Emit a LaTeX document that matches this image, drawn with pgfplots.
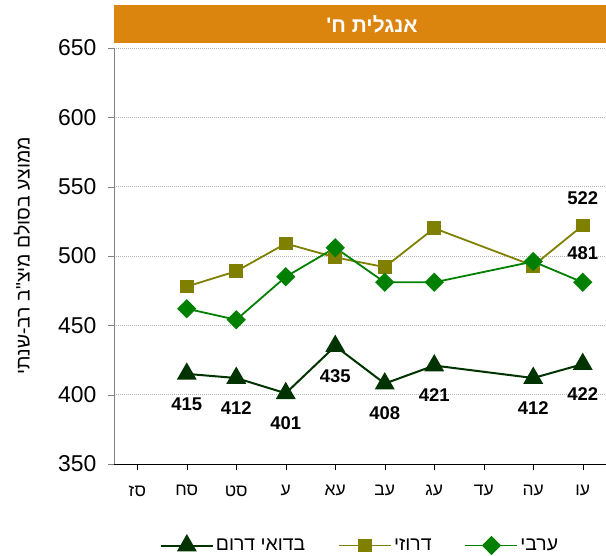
\documentclass[border=0pt]{standalone}
\usepackage{pgfplots}
\pgfplotsset{compat=1.18}
\usepackage{fontspec}
\setmainfont{Liberation Sans}
\newfontfamily\heb[Script=Hebrew]{Liberation Sans}
\TeXXeTstate=1
\newcommand{\he}[1]{{\heb\beginR #1\endR}}
\definecolor{bedouin}{RGB}{0,51,0}
\definecolor{druze}{RGB}{128,128,0}
\definecolor{arab}{RGB}{0,128,0}
\definecolor{titleor}{RGB}{219,132,14}

\begin{document}
\begin{tikzpicture}
\useasboundingbox (0,0) rectangle (606bp,556bp);
\begin{axis}[
    at={(114bp,92bp)}, anchor=south west,
    scale only axis, width=492bp, height=416bp,
    xmin=-0.47, xmax=9.47, ymin=350, ymax=650,
    ytick={350,400,...,650},
    xtick={0,...,9},
    xticklabels={\he{סז},\he{סח},\he{סט},\he{ע},\he{עא},\he{עב},\he{עג},\he{עד},\he{עה},\he{עו}},
    axis lines=left,
    axis line style={-},
    y axis line style={gray},
    x axis line style={black},
    tick align=outside,
    major tick length=6bp,
    ytick style={gray},
    xtick style={black},
    ymajorgrids,
    grid style={gray!60, dash pattern=on 1bp off 1bp},
    /pgf/number format/assume math mode=true,
    yticklabel style={font=\fontsize{23}{26}\selectfont, xshift=-8bp},
    xticklabel style={font=\fontsize{17.5}{20}\selectfont, yshift=-12bp},
    ylabel={{\heb\beginR ממוצע בסולם מיצ"ב רב-שנתי\endR}},
    ylabel style={font=\fontsize{19.5}{22}\selectfont, at={(axis description cs:-0.187,0.5)}, anchor=center},
    clip=false,
    legend style={at={(0.5,-0.195)}, anchor=center, draw=none,
        font=\fontsize{19.5}{22}\selectfont, legend columns=3,
        /tikz/every even column/.append style={column sep=31bp},
        inner sep=0pt},
    legend image code/.code={\draw[mark repeat=2,mark phase=2] plot coordinates {(0bp,0bp) (26bp,0bp) (52bp,0bp)};},
]
% בדואי דרום
\addplot[bedouin, line width=2bp, mark=triangle*, mark size=9.5bp,
    nodes near coords={\bfseries\pgfmathprintnumber{\pgfplotspointmeta}},
    every node near coord/.append style={black, font=\fontsize{18.5}{20}\selectfont, anchor=center, yshift=-30bp}]
    coordinates {(1,415) (2,412) (3,401) (4,435) (5,408) (6,421) (8,412) (9,422)};
\addlegendentry{\he{בדואי דרום}}
% דרוזי
\addplot[druze, line width=1.8bp, mark=square*, mark size=6bp]
    coordinates {(1,478) (2,489) (3,509) (4,499) (5,492) (6,520) (8,493) (9,522)};
\addlegendentry{\he{דרוזי}}
% ערבי
\addplot[arab, line width=1.8bp, mark=square*, mark size=5.9bp, mark options={rotate=45}]
    coordinates {(1,462) (2,454) (3,485) (4,506) (5,481) (6,481) (8,496) (9,481)};
\addlegendentry{\he{ערבי}}
% labels on the last points
\addplot[draw=none, forget plot,
    nodes near coords={\bfseries\pgfmathprintnumber{\pgfplotspointmeta}},
    every node near coord/.append style={black, font=\fontsize{18.5}{20}\selectfont, anchor=center, yshift=27bp}]
    coordinates {(9,522)};
\addplot[draw=none, forget plot,
    nodes near coords={\bfseries\pgfmathprintnumber{\pgfplotspointmeta}},
    every node near coord/.append style={black, font=\fontsize{18.5}{20}\selectfont, anchor=center, yshift=29bp}]
    coordinates {(9,481)};
% title bar
\fill[titleor] ([yshift=5bp]rel axis cs:0,1) rectangle ([yshift=43bp]rel axis cs:1,1);
\node[white, font=\fontsize{21}{24}\selectfont\bfseries, anchor=center]
    at ([yshift=24bp, xshift=12bp]rel axis cs:0.5,1) {\he{אנגלית ח'}};
\end{axis}
\end{tikzpicture}
\end{document}
